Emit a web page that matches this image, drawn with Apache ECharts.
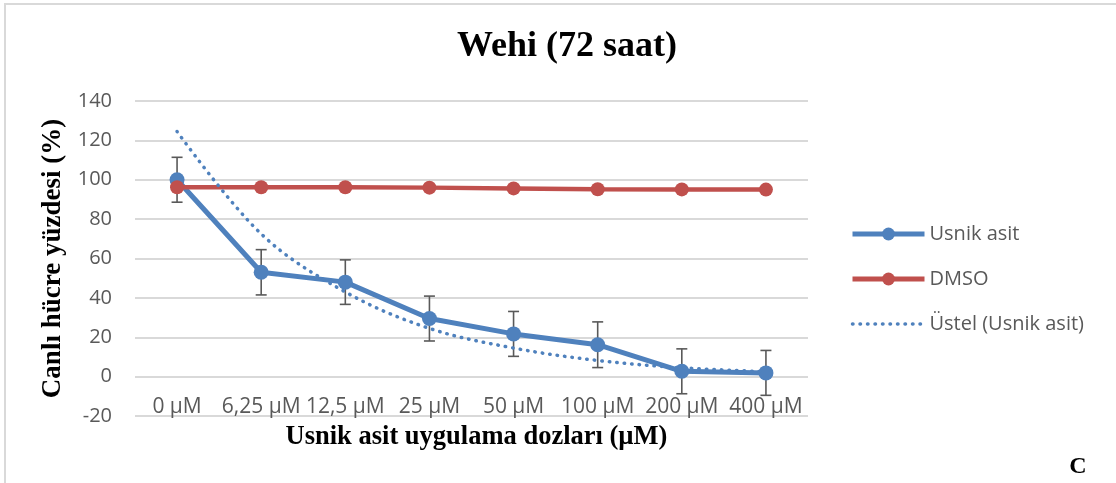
<!DOCTYPE html>
<html>
<head>
<meta charset="utf-8">
<script src="https://cdn.jsdelivr.net/npm/echarts@6/dist/echarts.min.js"></script>
<style>
html,body{margin:0;padding:0;background:#fff;}
#chart{width:1116px;height:483px;}
</style>
</head>
<body>
<div id="chart"></div>
<script>
const categories = ['0 µM', '6,25 µM', '12,5 µM', '25 µM', '50 µM', '100 µM', '200 µM', '400 µM'];
const usnikAsit = [100, 53, 48, 29.5, 21.7, 16.2, 2.7, 1.9];
const usnikErr = [11.4, 11.5, 11.3, 11.4, 11.4, 11.6, 11.4, 11.4];
const dmso = [96.2, 96.2, 96.2, 96.0, 95.6, 95.2, 95.1, 95.0];
const ustelTrend = [124.5, 72.5, 43, 24.5, 14.5, 8.2, 4.5, 2.5];
const yMin = -20, yMax = 140, yStep = 20;

const BLUE = '#4f81bd', RED = '#c0504d', GRAY = '#595959';
const errData = usnikAsit.map((v, i) => [i, v - usnikErr[i], v + usnikErr[i]]);

const chart = echarts.init(document.getElementById('chart'), null, {renderer: 'canvas'});
chart.setOption({
  animation: false,
  backgroundColor: '#fff',
  title: {
    text: 'Wehi (72 saat)',
    left: 562, top: 24, textAlign: 'center',
    textStyle: {fontFamily: 'Liberation Serif', fontWeight: 'bold', fontSize: 36, color: '#000'}
  },
  graphic: [
    {type: 'rect', shape: {x: 5, y: 4, width: 1300, height: 700}, style: {fill: 'none', stroke: '#d9d9d9', lineWidth: 2}, silent: true},
    {type: 'text', x: 1078, y: 467, style: {text: 'C', fontFamily: 'Liberation Serif', fontWeight: 'bold', fontSize: 24, fill: '#000', textAlign: 'center', textVerticalAlign: 'middle'}}
  ],
  legend: {
    orient: 'vertical', left: 845, top: 219,
    itemWidth: 72, itemHeight: 16, itemGap: 25,
    lineStyle: {width: 5},
    data: [
      {name: 'Usnik asit', lineStyle: {width: 5}},
      {name: 'DMSO', lineStyle: {width: 5}},
      {name: 'Üstel (Usnik asit)', lineStyle: {width: 3.5}, itemStyle: {opacity: 0}}
    ],
    textStyle: {fontFamily: 'Open Sans', fontSize: 20, color: GRAY}
  },
  grid: {left: 135, right: 308, top: 101, bottom: 67, containLabel: false},
  xAxis: {
    type: 'category', data: categories,
    boundaryGap: true,
    axisLine: {show: false}, axisTick: {show: false},
    axisLabel: {interval: 0, margin: -19, fontFamily: 'Open Sans', fontSize: 21, color: GRAY},
    name: 'Usnik asit uygulama dozları (µM)', nameLocation: 'middle', nameGap: 8,
    nameTextStyle: {fontFamily: 'Liberation Serif', fontWeight: 'bold', fontSize: 26.5, color: '#000', padding: [0, 0, 0, 10]}
  },
  yAxis: {
    type: 'value', min: yMin, max: yMax, interval: yStep,
    axisLine: {show: false}, axisTick: {show: false},
    splitLine: {lineStyle: {color: '#d9d9d9', width: 2}},
    axisLabel: {margin: 23, fontFamily: 'Open Sans', fontSize: 20, color: GRAY},
    name: 'Canlı hücre yüzdesi (%)', nameLocation: 'middle', nameGap: 66,
    nameTextStyle: {fontFamily: 'Liberation Serif', fontWeight: 'bold', fontSize: 27, color: '#000'}
  },
  series: [
    {
      name: 'err', type: 'custom', z: 1,
      data: errData,
      encode: {x: 0, y: [1, 2]},
      renderItem: function (params, api) {
        const x = api.value(0);
        const lo = api.coord([x, api.value(1)]);
        const hi = api.coord([x, api.value(2)]);
        const hw = 5.5;
        const st = {stroke: GRAY, lineWidth: 1.6};
        return {type: 'group', children: [
          {type: 'line', shape: {x1: lo[0], y1: lo[1], x2: hi[0], y2: hi[1]}, style: st},
          {type: 'line', shape: {x1: lo[0] - hw, y1: lo[1], x2: lo[0] + hw, y2: lo[1]}, style: st},
          {type: 'line', shape: {x1: hi[0] - hw, y1: hi[1], x2: hi[0] + hw, y2: hi[1]}, style: st}
        ]};
      }
    },
    {
      name: 'Usnik asit', type: 'line', z: 3, data: usnikAsit,
      symbol: 'circle', symbolSize: 15,
      lineStyle: {color: BLUE, width: 5}, itemStyle: {color: BLUE}
    },
    {
      name: 'DMSO', type: 'line', z: 4, data: dmso,
      symbol: 'circle', symbolSize: 14,
      lineStyle: {color: RED, width: 4.5}, itemStyle: {color: RED}
    },
    {
      name: 'Üstel (Usnik asit)', type: 'line', z: 5, data: ustelTrend,
      smooth: 0.35, symbol: 'none',
      lineStyle: {color: BLUE, width: 3.5, type: [0.5, 7], cap: 'round'}, itemStyle: {color: BLUE}
    }
  ]
});
</script>
</body>
</html>
